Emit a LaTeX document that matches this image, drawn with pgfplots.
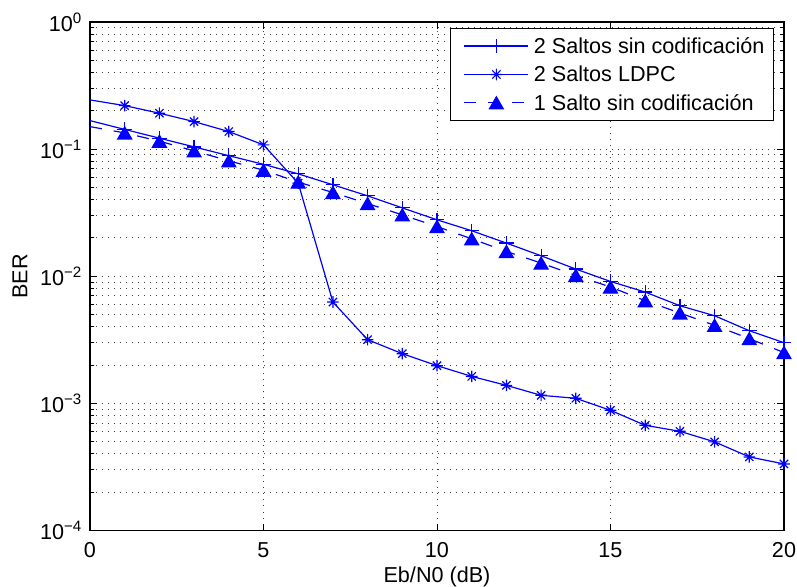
\documentclass[border=0pt]{standalone}
\usepackage{fontspec}
\setmainfont{Liberation Sans}
\usepackage{pgfplots}
\pgfplotsset{compat=1.18}
\usetikzlibrary{calc}

% MATLAB-style asterisk: plus and cross together
\pgfdeclareplotmark{mstar}{%
  \pgfpathmoveto{\pgfqpoint{0pt}{\pgfplotmarksize}}\pgfpathlineto{\pgfqpoint{0pt}{-\pgfplotmarksize}}%
  \pgfpathmoveto{\pgfqpoint{\pgfplotmarksize}{0pt}}\pgfpathlineto{\pgfqpoint{-\pgfplotmarksize}{0pt}}%
  \pgfpathmoveto{\pgfqpoint{0.7071\pgfplotmarksize}{0.7071\pgfplotmarksize}}\pgfpathlineto{\pgfqpoint{-0.7071\pgfplotmarksize}{-0.7071\pgfplotmarksize}}%
  \pgfpathmoveto{\pgfqpoint{-0.7071\pgfplotmarksize}{0.7071\pgfplotmarksize}}\pgfpathlineto{\pgfqpoint{0.7071\pgfplotmarksize}{-0.7071\pgfplotmarksize}}%
  \pgfusepathqstroke}

\begin{document}
\fontsize{10.8}{13}\selectfont
\begin{tikzpicture}
\begin{axis}[name=ax, width=347pt, height=254.25pt, scale only axis,
  xmin=0, xmax=20, ymode=log, ymin=1e-4, ymax=1,
  xtick={0,5,...,20}, ytick={1e-4,1e-3,1e-2,1e-1,1},
  yticklabels={10\textsuperscript{−4},10\textsuperscript{−3},10\textsuperscript{−2},10\textsuperscript{−1},10\textsuperscript{0}},
  /pgf/number format/assume math mode=true,
  tick align=inside, major tick length=3.5pt, minor tick length=2pt,
  axis line style={line width=0.6pt},
  every tick/.style={black, line width=0.5pt},
  grid=both,
  major grid style={black!75, line width=0.5pt, dash pattern=on 0.5pt off 2.5pt},
  minor grid style={black!75, line width=0.5pt, dash pattern=on 0.5pt off 2.5pt},
  xlabel={Eb/N0 (dB)}, ylabel={BER},
  xlabel style={at={(axis description cs:0.5,-0.0909)}, anchor=center},
  ylabel style={at={(axis description cs:-0.101,0.5)}, anchor=center},
  xticklabel style={yshift=-2.3pt},
  legend style={at={(0.9856,0.988)}, anchor=north east, draw=black, line width=0.5pt,
    inner xsep=4.5pt, inner ysep=2.5pt, row sep=1.7pt, column sep=2.5pt,
    nodes={inner xsep=0pt, inner ysep=2pt, text height=8pt, text depth=0.5pt}},
  legend cell align=left,
  legend image code/.code={%
    \path (-2pt,0pt);
    \draw[mark indices={2}] plot coordinates {(0pt,0pt) (16pt,0pt) (32pt,0pt)};},
]
\addplot[blue, line width=0.6pt, mark=+, mark size=3.6pt, mark indices={2,...,21}] coordinates {
 (0,0.1676) (1,0.1429) (2,0.1220) (3,0.1041) (4,0.0888) (5,0.0759) (6,0.0639)
 (7,0.0524) (8,0.0429) (9,0.0345) (10,0.0278) (11,0.0228) (12,0.01823) (13,0.01449)
 (14,0.01139) (15,0.00910) (16,0.00751) (17,0.00586) (18,0.00489) (19,0.00373) (20,0.00300)};
\addlegendentry{2 Saltos sin codificación}
\addplot[blue, line width=0.6pt, mark=mstar, mark size=2.9pt, mark indices={2,...,21}] coordinates {
 (0,0.2438) (1,0.2199) (2,0.1916) (3,0.1646) (4,0.1374) (5,0.1080) (6,0.0540)
 (7,0.00627) (8,0.00317) (9,0.00246) (10,0.00198) (11,0.00163) (12,0.001386) (13,0.001157)
 (14,0.001096) (15,0.000882) (16,0.000672) (17,0.000603) (18,0.000498) (19,0.000379) (20,0.000334)};
\addlegendentry{2 Saltos LDPC}
\addplot[blue, line width=0.6pt, dash pattern=on 6pt off 6pt, mark=triangle*, mark size=4pt,
  mark options={solid, fill=blue, yshift=-1pt}, mark indices={2,...,21}] coordinates {
 (0,0.1503) (1,0.1341) (2,0.1155) (3,0.0969) (4,0.0809) (5,0.0683) (6,0.0550)
 (7,0.0456) (8,0.0373) (9,0.0304) (10,0.0246) (11,0.0197) (12,0.01566) (13,0.01270)
 (14,0.01015) (15,0.00823) (16,0.00642) (17,0.00514) (18,0.00411) (19,0.00323) (20,0.00251)};
\addlegendentry{1 Salto sin codificación}
\end{axis}
\pgfresetboundingbox
\path ($(ax.south west)+(-45pt,-28.25pt)$) rectangle ($(ax.north east)+(6.5pt,11pt)$);
\end{tikzpicture}
\end{document}
